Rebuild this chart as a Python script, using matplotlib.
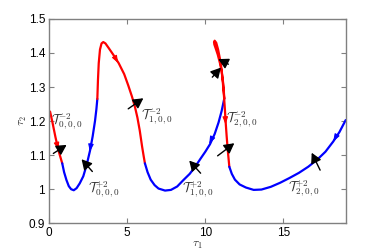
import matplotlib
matplotlib.use("Agg")
import matplotlib.pyplot as plt

plt.rcParams['mathtext.fontset'] = 'cm'
plt.rcParams['font.family'] = ['Liberation Sans', 'DejaVu Sans']

# ---- curve segments (red = T^-2 parts, blue = T^+2 parts) ----
r1_x = [0.05, 0.2, 0.4, 0.6, 0.83]
r1_y = [1.228, 1.197, 1.152, 1.112, 1.076]

b1_x = [0.83, 0.95, 1.1, 1.25, 1.4, 1.57, 1.75, 1.95, 2.18, 2.4, 2.61, 2.78, 2.93, 3.02, 3.08]
b1_y = [1.076, 1.050, 1.027, 1.009, 1.000, 0.997, 1.003, 1.017, 1.038, 1.072, 1.113, 1.155, 1.200, 1.235, 1.265]

r2_x = [3.08, 3.12, 3.17, 3.25, 3.35, 3.46, 3.6, 3.8, 4.1, 4.45, 4.8, 5.06, 5.3, 5.5, 5.65, 5.8, 5.95, 6.05, 6.13]
r2_y = [1.265, 1.32, 1.37, 1.41, 1.428, 1.432, 1.428, 1.415, 1.395, 1.37, 1.338, 1.305, 1.272, 1.24, 1.21, 1.172, 1.125, 1.097, 1.076]

b2_x = [6.13, 6.3, 6.5, 6.75, 7.0, 7.42, 7.8, 8.2, 8.6, 9.0, 9.35, 9.7, 10.0, 10.3, 10.6, 10.85, 11.05, 11.22]
b2_y = [1.076, 1.050, 1.028, 1.012, 1.002, 0.996, 0.998, 1.008, 1.027, 1.045, 1.066, 1.090, 1.110, 1.132, 1.162, 1.196, 1.230, 1.267]

r3_x = [11.22, 11.15, 11.05, 10.94, 10.8, 10.67, 10.58, 10.56, 10.6, 10.7, 10.82, 10.95, 11.05, 11.13, 11.2, 11.26, 11.31, 11.37, 11.44, 11.54]
r3_y = [1.267, 1.31, 1.345, 1.37, 1.395, 1.413, 1.425, 1.432, 1.436, 1.430, 1.41, 1.38, 1.35, 1.31, 1.272, 1.232, 1.194, 1.155, 1.115, 1.066]

b3_x = [11.54, 11.7, 11.9, 12.2, 12.6, 13.1, 13.6, 14.2, 14.8, 15.4, 16.0, 16.6, 17.2, 17.7, 18.2, 18.6, 19.0]
b3_y = [1.066, 1.045, 1.028, 1.014, 1.005, 0.998, 0.999, 1.007, 1.019, 1.033, 1.048, 1.066, 1.088, 1.110, 1.140, 1.168, 1.203]

# ---- direction arrowheads on the curves: (x_from, y_from, x_to, y_to, color) ----
curve_arrows = [
    (0.45, 1.140, 0.58, 1.115, 'red'),
    (2.68, 1.135, 2.60, 1.110, 'blue'),
    (4.20, 1.388, 4.42, 1.370, 'red'),
    (10.40, 1.147, 10.25, 1.133, 'blue'),
    (11.27, 1.225, 11.30, 1.190, 'red'),
    (18.45, 1.160, 18.20, 1.140, 'blue'),
]

# ---- black annotation arrows: (tail_x, tail_y, head_x, head_y) ----
black_arrows = [
    (0.26, 1.105, 1.11, 1.130),
    (2.76, 1.052, 2.07, 1.088),
    (5.06, 1.236, 6.03, 1.267),
    (9.70, 1.047, 8.97, 1.084),
    (10.45, 1.329, 11.00, 1.357),
    (11.48, 1.367, 10.83, 1.382),
    (10.79, 1.098, 11.86, 1.135),
    (17.36, 1.056, 16.82, 1.107),
]

# ---- labels ----
label_text = [r'$\mathcal{T}_{0,0,0}^{-2}$', r'$\mathcal{T}_{0,0,0}^{+2}$',
              r'$\mathcal{T}_{1,0,0}^{-2}$', r'$\mathcal{T}_{1,0,0}^{+2}$',
              r'$\mathcal{T}_{2,0,0}^{-2}$', r'$\mathcal{T}_{2,0,0}^{+2}$']
label_x = [0.12, 2.45, 5.85, 8.52, 11.35, 15.3]
label_y = [1.198, 0.998, 1.213, 0.998, 1.203, 1.002]

x_ticks = [0, 5, 10, 15]
x_ticklabels = ['0', '5', '10', '15']
y_ticks = [0.9, 1.0, 1.1, 1.2, 1.3, 1.4, 1.5]
y_ticklabels = ['0.9', '1', '1.1', '1.2', '1.3', '1.4', '1.5']

fig = plt.figure(figsize=(3.82, 2.52), dpi=100)
ax = fig.add_axes([0.129, 0.114, 0.776, 0.811])

lw = 1.6
for xs, ys, c in [(r1_x, r1_y, 'red'), (b1_x, b1_y, 'blue'), (r2_x, r2_y, 'red'),
                  (b2_x, b2_y, 'blue'), (r3_x, r3_y, 'red'), (b3_x, b3_y, 'blue')]:
    ax.plot(xs, ys, color=c, lw=lw, solid_capstyle='round', solid_joinstyle='round')

for x0, y0, x1, y1, c in curve_arrows:
    ax.annotate('', xy=(x1, y1), xytext=(x0, y0),
                arrowprops=dict(arrowstyle='-|>,head_length=0.55,head_width=0.2', color=c,
                                lw=0.8, shrinkA=0, shrinkB=0, mutation_scale=8))

for x0, y0, x1, y1 in black_arrows:
    ax.annotate('', xy=(x1, y1), xytext=(x0, y0),
                arrowprops=dict(arrowstyle='-|>,head_length=0.55,head_width=0.3', color='black',
                                lw=1.0, shrinkA=0, shrinkB=0, mutation_scale=11))

for t, x, y in zip(label_text, label_x, label_y):
    ax.text(x, y, t, fontsize=9.5, color='#333333', ha='left', va='center')

ax.set_xlim(0, 19)
ax.set_ylim(0.9, 1.5)
ax.set_xticks(x_ticks)
ax.set_xticklabels(x_ticklabels)
ax.set_yticks(y_ticks)
ax.set_yticklabels(y_ticklabels)
ax.tick_params(direction='in', length=3.5, width=0.8, color='#808080', labelsize=8.5,
               top=True, right=True, pad=3)
for s in ax.spines.values():
    s.set_color('#808080')
    s.set_linewidth(1.0)

ax.set_xlabel(r'$\tau_1$', fontsize=8.5, labelpad=0, color='#333333')
ax.set_ylabel(r'$\tau_2$', fontsize=8.5, labelpad=0, color='#333333')

fig.savefig('out.png', dpi=100)
